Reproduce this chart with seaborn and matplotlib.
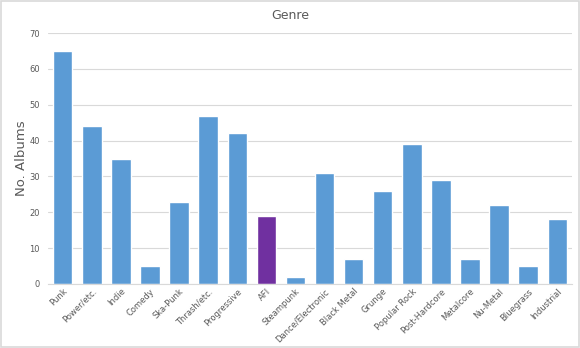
import matplotlib
matplotlib.use("Agg")
import matplotlib.pyplot as plt
import seaborn as sns
import pandas as pd

genres = ["Punk", "Power/etc.", "Indie", "Comedy", "Ska-Punk", "Thrash/etc.",
          "Progressive", "AFI", "Steampunk", "Dance/Electronic", "Black Metal",
          "Grunge", "Popular Rock", "Post-Hardcore", "Metalcore", "Nu-Metal",
          "Bluegrass", "Industrial"]
albums = [65, 44, 35, 5, 23, 47, 42, 19, 2, 31, 7, 26, 39, 29, 7, 22, 5, 18]
highlight = "AFI"

df = pd.DataFrame({"genre": genres, "albums": albums})
df["group"] = ["hi" if g == highlight else "base" for g in genres]

sns.set_theme(style="white")
plt.rcParams["font.family"] = ["DejaVu Sans"]

text_color = "#595959"
fig = plt.figure(figsize=(5.8, 3.48), dpi=100)
ax = fig.add_axes([0.083, 0.184, 0.903, 0.721])

sns.barplot(data=df, x="genre", y="albums", hue="group",
            palette={"base": "#5B9BD5", "hi": "#7030A0"},
            dodge=False, width=0.67, legend=False, ax=ax, saturation=1)

ax.set_ylim(0, 70)
ax.set_yticks(range(0, 71, 10))
ax.set_xlim(-0.5, len(genres) - 0.5)
ax.yaxis.grid(True, color="#D9D9D9", linewidth=0.8)
ax.set_axisbelow(True)
for s in ["top", "right", "left"]:
    ax.spines[s].set_visible(False)
ax.spines["bottom"].set_color("#D9D9D9")
ax.spines["bottom"].set_linewidth(0.8)

ax.tick_params(axis="y", labelsize=6, colors=text_color, length=0, pad=6)
ax.tick_params(axis="x", labelsize=6, colors=text_color, length=0, pad=2)
plt.setp(ax.get_xticklabels(), rotation=45, ha="right", rotation_mode="anchor")

ax.set_xlabel("")
ax.set_ylabel("No. Albums", fontsize=9.5, color=text_color, labelpad=1)
fig.text(0.5, 0.955, "Genre", ha="center", va="center", fontsize=9, color=text_color)

# light frame around the figure
fig.patches.append(plt.Rectangle((0.002, 0.003), 0.996, 0.994, transform=fig.transFigure,
                                 fill=False, edgecolor="#D9D9D9", linewidth=1.2))

fig.savefig("out.png", dpi=100, facecolor="white")
